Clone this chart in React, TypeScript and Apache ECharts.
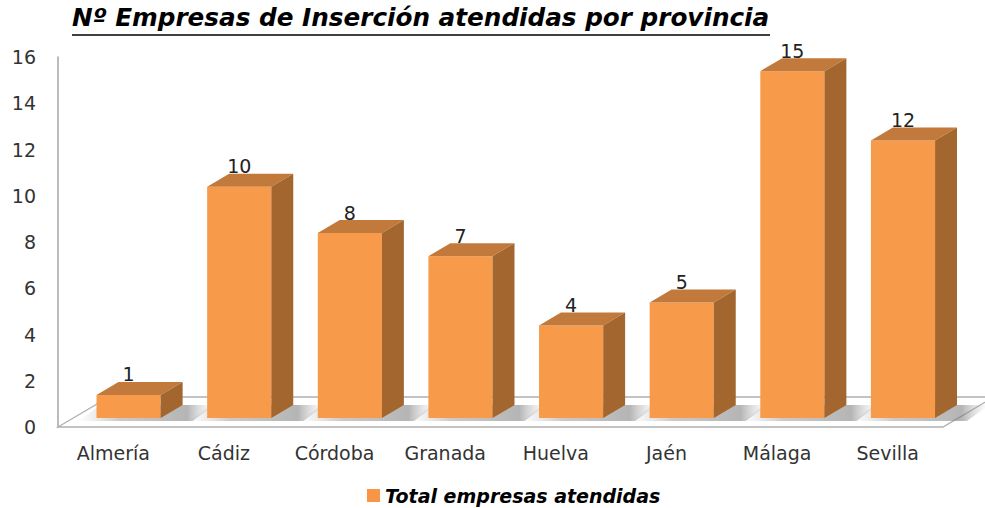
import React, { useEffect, useRef } from "react";
import * as echarts from "echarts";

const categories = ["Almería", "Cádiz", "Córdoba", "Granada", "Huelva", "Jaén", "Málaga", "Sevilla"];
const values = [1, 10, 8, 7, 4, 5, 15, 12];
const seriesName = "Total empresas atendidas";
const titleText = "Nº Empresas de Inserción atendidas por provincia";
const yMin = 0;
const yMax = 16;
const yInterval = 2;

const FONT = "'DejaVu Sans', Verdana, sans-serif";
const FRONT = "#F79A4A";
const TOP = "#C27A3C";
const SIDE = "#A3662F";
const DEPTH = { dx: 51, dy: -30 };
const BAR_OFFSET = 0.3;
const BAR_DEPTH = 0.43;
const BAR_WIDTH = 0.58;

function barGeom(api: any) {
  const i = api.value(0);
  const v = api.value(1);
  const base = api.coord([i, 0]);
  const top = api.coord([i, v]);
  const band = api.size([1, 0])[0];
  const w = band * BAR_WIDTH;
  const ox = DEPTH.dx * BAR_OFFSET;
  const oy = DEPTH.dy * BAR_OFFSET;
  const bdx = DEPTH.dx * BAR_DEPTH;
  const bdy = DEPTH.dy * BAR_DEPTH;
  const cx = base[0] + ox;
  return { x1: cx - w / 2, x2: cx + w / 2, cx, yb: base[1] + oy, yt: top[1] + oy, bdx, bdy, v };
}

export default function App() {
  const ref = useRef<HTMLDivElement>(null);
  useEffect(() => {
    if (!ref.current) return;
    const chart = echarts.init(ref.current, undefined, { renderer: "svg" });
    const data = values.map((v, i) => [i, v]);
    chart.setOption({
      animation: false,
      backgroundColor: "#ffffff",
      graphic: [
        {
          type: "text",
          left: 72,
          top: 5,
          style: {
            text: titleText,
            font: `italic bold 24.7px ${FONT}`,
            fill: "#000",
          },
        },
        {
          type: "line",
          shape: { x1: 72, y1: 35, x2: 770, y2: 35 },
          style: { stroke: "#000", lineWidth: 1.5 },
        },
      ],
      legend: {
        data: [seriesName],
        left: 362,
        top: 481,
        icon: "rect",
        itemWidth: 13,
        itemHeight: 13,
        itemGap: 8,
        textStyle: { fontFamily: FONT, fontWeight: "bold", fontStyle: "italic", fontSize: 19, color: "#000" },
      },
      grid: { left: 58, right: 42, top: 57, bottom: 81 },
      xAxis: {
        type: "category",
        data: categories,
        axisLine: { show: false },
        axisTick: { show: false },
        axisLabel: { fontFamily: FONT, fontSize: 19, color: "#333", margin: 16 },
      },
      yAxis: {
        type: "value",
        min: yMin,
        max: yMax,
        interval: yInterval,
        axisLine: { show: true, lineStyle: { color: "#a6a6a6", width: 1.5 } },
        axisTick: { show: false },
        splitLine: { show: false },
        axisLabel: { fontFamily: FONT, fontSize: 19, color: "#333", margin: 22 },
      },
      series: [
        {
          type: "custom",
          name: "floor",
          z: 1,
          silent: true,
          data,
          encode: { x: 0, y: 1 },
          renderItem: (params: any, api: any) => {
            const g = barGeom(api);
            const children: any[] = [];
            if (params.dataIndex === 0) {
              const cs = params.coordSys;
              const fx1 = cs.x;
              const fx2 = cs.x + cs.width;
              const fy = cs.y + cs.height;
              children.push({
                type: "polygon",
                shape: {
                  points: [
                    [fx1, fy],
                    [fx2, fy],
                    [fx2 + DEPTH.dx, fy + DEPTH.dy],
                    [fx1 + DEPTH.dx, fy + DEPTH.dy],
                  ],
                },
                style: { fill: "#ffffff", stroke: "#b0b0b0", lineWidth: 1.3 },
              });
            }
            const sx1 = g.x1 - 18;
            const sx2 = g.x2 + 32;
            children.push({
              type: "polygon",
              shape: {
                points: [
                  [sx1, g.yb + 3],
                  [sx2, g.yb + 3],
                  [sx2 + g.bdx, g.yb + g.bdy],
                  [sx1 + g.bdx, g.yb + g.bdy],
                ],
              },
              style: {
                fill: new echarts.graphic.LinearGradient(0, 0, 1, 0, [
                  { offset: 0, color: "rgba(170,170,170,0)" },
                  { offset: 0.3, color: "rgba(150,150,150,0.5)" },
                  { offset: 0.8, color: "rgba(120,120,120,0.55)" },
                  { offset: 1, color: "rgba(190,190,190,0)" },
                ]),
              },
            });
            return { type: "group", children };
          },
        },
        {
          type: "custom",
          name: seriesName,
          z: 2,
          data,
          encode: { x: 0, y: 1 },
          itemStyle: { color: "#F79646" },
          renderItem: (params: any, api: any) => {
            const g = barGeom(api);
            return {
              type: "group",
              children: [
                {
                  type: "polygon",
                  shape: { points: [[g.x1, g.yt], [g.x2, g.yt], [g.x2, g.yb], [g.x1, g.yb]] },
                  style: { fill: FRONT },
                },
                {
                  type: "polygon",
                  shape: {
                    points: [
                      [g.x1, g.yt],
                      [g.x2, g.yt],
                      [g.x2 + g.bdx, g.yt + g.bdy],
                      [g.x1 + g.bdx, g.yt + g.bdy],
                    ],
                  },
                  style: { fill: TOP },
                },
                {
                  type: "polygon",
                  shape: {
                    points: [
                      [g.x2, g.yt],
                      [g.x2 + g.bdx, g.yt + g.bdy],
                      [g.x2 + g.bdx, g.yb + g.bdy],
                      [g.x2, g.yb],
                    ],
                  },
                  style: { fill: SIDE },
                },
                {
                  type: "text",
                  style: {
                    text: String(g.v),
                    x: g.cx,
                    y: g.yt + g.bdy + 2,
                    align: "center",
                    verticalAlign: "bottom",
                    font: `19px ${FONT}`,
                    fill: "#222",
                  },
                },
              ],
            };
          },
        },
      ],
    });
    return () => chart.dispose();
  }, []);
  return <div ref={ref} style={{ position: "absolute", left: 0, top: 0, width: 985, height: 508 }} />;
}
